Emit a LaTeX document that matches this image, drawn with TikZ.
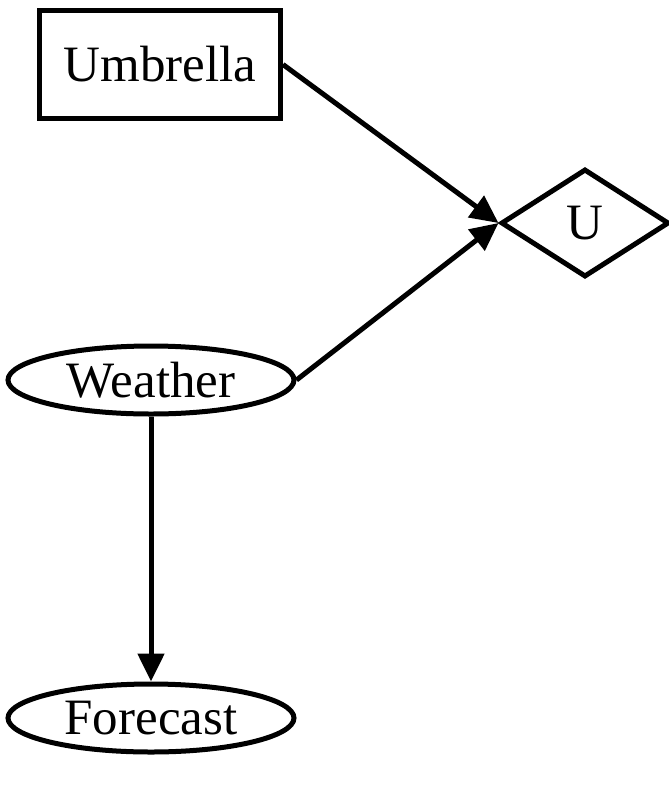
\documentclass[tikz,border=0pt]{standalone}
\usepackage{fontspec}
\setmainfont{Liberation Serif}
\usetikzlibrary{shapes.geometric,arrows.meta}

\begin{document}
\begin{tikzpicture}[x=0.5pt,y=-0.5pt]
				\tikzstyle{every node}=[draw,line width=2.5pt,inner sep=0pt,font=\fontsize{25.5}{30}\selectfont]
				\tikzstyle{decision}=[rectangle,minimum width=120.5pt,minimum height=54pt]
				\tikzstyle{chance}=[ellipse,minimum width=143pt,minimum height=34pt]
				\tikzstyle{utility}=[diamond,minimum width=84pt,minimum height=54pt]
				\tikzstyle{link}=[line width=2.5pt,-{Triangle[length=14pt,width=13pt]}]
				\useasboundingbox (0,0) rectangle (669,810);
				\node[decision] (umbrella) at (160,64.5) {Umbrella};
				\node[utility] (u) at (585,223) {U};
				\node[chance] (weather) at (151,380) {Weather};
				\node[chance] (forecast) at (151,718) {Forecast};
				\draw[link] (umbrella.east) -- (u.west);
				\draw[link] (weather.east) -- (u.west);
				\draw[link] (weather) -- (forecast);
\end{tikzpicture}
\end{document}
